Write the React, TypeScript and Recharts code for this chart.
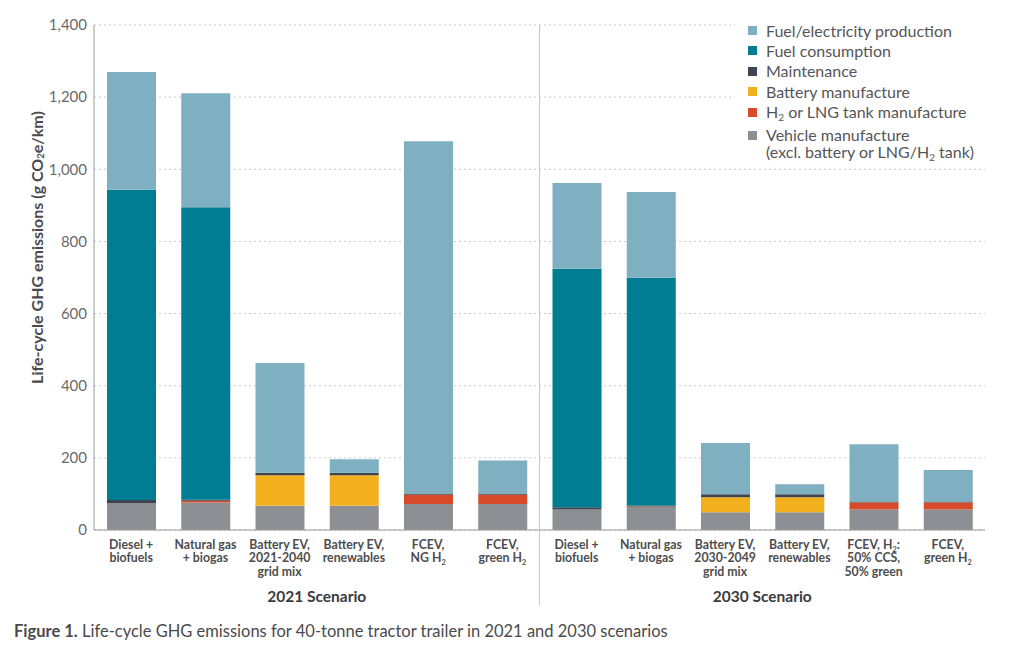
import React from 'react'
import { BarChart, Bar, XAxis, YAxis, CartesianGrid, Legend } from 'recharts'

// categories (two scenarios, six pathways each)
const categories = ['d21', 'ng21', 'bevg21', 'bevr21', 'fcng21', 'fcg21', 'd30', 'ng30', 'bevg30', 'bevr30', 'fcmix30', 'fcg30']
const tickLabels = [
  ['Diesel +', 'biofuels'],
  ['Natural gas', '+ biogas'],
  ['Battery EV,', '2021-2040', 'grid mix'],
  ['Battery EV,', 'renewables'],
  ['FCEV,', 'NG H₂'],
  ['FCEV,', 'green H₂'],
  ['Diesel +', 'biofuels'],
  ['Natural gas', '+ biogas'],
  ['Battery EV,', '2030-2049', 'grid mix'],
  ['Battery EV,', 'renewables'],
  ['FCEV, H₂:', '50% CCS,', '50% green'],
  ['FCEV,', 'green H₂'],
]
const scenarios = [
  { label: '2021 Scenario', from: 0, to: 5 },
  { label: '2030 Scenario', from: 6, to: 11 },
]

// g CO2e/km
const vehicle = [75, 76, 67, 67, 72, 72, 57, 64, 49, 49, 57, 57]
const tank = [0, 5, 0, 0, 26, 26, 0, 1, 0, 0, 19, 19]
const battery = [0, 0, 85, 85, 0, 0, 0, 0, 42, 42, 0, 0]
const maintenance = [8, 3, 7, 7, 3, 3, 6, 3, 8, 8, 3, 3]
const fuelConsumption = [860, 811, 0, 0, 0, 0, 661, 631, 0, 0, 0, 0]
const fuelProduction = [327, 316, 304, 37, 977, 92, 238, 238, 142, 28, 159, 87]

const yTicks = [0, 200, 400, 600, 800, 1000, 1200, 1400]

// stacking order, bottom first
const series = [
  { key: 'vehicle', name: 'Vehicle manufacture\n(excl. battery or LNG/H₂ tank)', color: '#8e8f94' },
  { key: 'tank', name: 'H₂ or LNG tank manufacture', color: '#d84b2a' },
  { key: 'battery', name: 'Battery manufacture', color: '#f2b01e' },
  { key: 'maintenance', name: 'Maintenance', color: '#3d4650' },
  { key: 'fuelConsumption', name: 'Fuel consumption', color: '#007d92' },
  { key: 'fuelProduction', name: 'Fuel/electricity production', color: '#7eb0c2' },
]

const data = categories.map((c, i) => ({
  key: c,
  vehicle: vehicle[i],
  tank: tank[i],
  battery: battery[i],
  maintenance: maintenance[i],
  fuelConsumption: fuelConsumption[i],
  fuelProduction: fuelProduction[i],
}))

const W = 1024
const H = 656
const margin = { top: 25, right: 39, left: 0, bottom: 26 }
const Y_AXIS_W = 94
const BAND = (W - margin.left - margin.right - Y_AXIS_W) / categories.length

// svg text with "₂" drawn as a real subscript
function subText(text: string, size: number) {
  const parts = text.split('₂')
  const shift = size * 0.22
  const out: React.ReactNode[] = []
  parts.forEach((p, i) => {
    if (i === 0) {
      out.push(<tspan key={'p' + i}>{p}</tspan>)
    } else {
      out.push(<tspan key={'s' + i} dy={shift} fontSize={size * 0.6}>2</tspan>)
      if (p) out.push(<tspan key={'p' + i} dy={-shift}>{p}</tspan>)
    }
  })
  return out
}

function htmlSub(text: string) {
  const parts = text.split('₂')
  return parts.map((p, i) => (
    <React.Fragment key={i}>
      {i > 0 && <sub style={{ fontSize: 10, verticalAlign: 'baseline', position: 'relative', top: 3 }}>2</sub>}
      {p}
    </React.Fragment>
  ))
}

function CategoryTick(props: any) {
  const { x, y, payload } = props
  const idx = categories.indexOf(payload.value)
  const lines = tickLabels[idx] || []
  const group = scenarios.find(s => s.from + 2 === idx)
  const isGroupEnd = scenarios[0].to === idx
  return (
    <g>
      {lines.map((l, i) => (
        <text key={i} x={x} y={y + 19 + i * 13.4} textAnchor="middle" fontSize={12.3} fontWeight={700} fill="#4d4d4f">
          {subText(l, 12.3)}
        </text>
      ))}
      {group && (
        <text x={x + BAND / 2} y={y + 72} textAnchor="middle" fontSize={15.5} fontWeight={700} fill="#3a3a3c">
          {group.label}
        </text>
      )}
      {isGroupEnd && (
        <line x1={x + BAND / 2} x2={x + BAND / 2} y1={margin.top} y2={y + 75} stroke="#c9c9c9" strokeWidth={1} />
      )}
    </g>
  )
}

function YLabel(props: any) {
  const vb = props.viewBox || { x: 0, y: 0, width: 0, height: 0 }
  const cx = 36
  const cy = vb.y + vb.height / 2 - 30
  return (
    <text x={cx} y={cy} transform={`rotate(-90, ${cx}, ${cy})`} textAnchor="middle" dominantBaseline="central" fontSize={16} fontWeight={700} fill="#4a4a4c">
      {subText('Life-cycle GHG emissions (g CO₂e/km)', 16)}
    </text>
  )
}

function LegendBox() {
  const items = [...series].reverse()
  return (
    <div style={{ background: '#fff', paddingLeft: 13 }}>
      {items.map(it => (
        <div key={it.key} style={{ display: 'flex', alignItems: 'flex-start', marginBottom: 3.4 }}>
          <span style={{ width: 9, height: 9, background: it.color, marginTop: 4.5, marginRight: 9, flexShrink: 0 }} />
          <span style={{ fontSize: 16, lineHeight: '17px', color: '#555558' }}>
            {it.name.split('\n').map((l, i) => (
              <div key={i}>{htmlSub(l)}</div>
            ))}
          </span>
        </div>
      ))}
    </div>
  )
}

export default function App() {
  return (
    <div style={{ position: 'absolute', left: 0, top: 0, width: W, height: H, background: '#fff', fontFamily: 'Lato, "Open Sans", sans-serif' }}>
      <BarChart width={W} height={H} data={data} margin={margin} barSize={49}>
        <CartesianGrid vertical={false} strokeDasharray="2 3" stroke="#c8c8c8" />
        <XAxis
          dataKey="key"
          interval={0}
          height={100}
          tickLine={false}
          tickSize={0}
          tickMargin={0}
          stroke="#9a9a9a"
          tick={<CategoryTick />}
        />
        <YAxis
          width={Y_AXIS_W}
          domain={[0, 1400]}
          ticks={yTicks}
          tickLine={false}
          tickSize={0}
          tickMargin={7}
          stroke="#9a9a9a"
          tick={{ fontSize: 15, fill: '#6a6a6c' }}
          tickFormatter={(v: number) => v.toLocaleString('en-US')}
          label={<YLabel />}
        />
        <Legend
          layout="vertical"
          align="center"
          verticalAlign="middle"
          wrapperStyle={{ top: 21.5, left: 735, width: 270 }}
          content={<LegendBox />}
        />
        {series.map(s => (
          <Bar key={s.key} dataKey={s.key} name={s.name} stackId="a" fill={s.color} isAnimationActive={false} />
        ))}
      </BarChart>
      <div style={{ position: 'absolute', left: 14, top: 621, fontSize: 16.5, color: '#4a4a4c' }}>
        <b>Figure 1.</b> Life-cycle GHG emissions for 40-tonne tractor trailer in 2021 and 2030 scenarios
      </div>
    </div>
  )
}
